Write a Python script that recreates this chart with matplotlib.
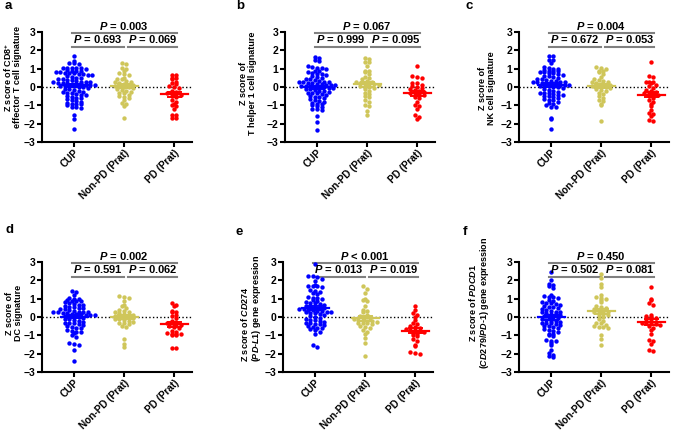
import numpy as np
import matplotlib
matplotlib.use("Agg")
import matplotlib.pyplot as plt

plt.rcParams['font.family'] = ['Liberation Sans', 'DejaVu Sans']
plt.rcParams['font.weight'] = 'bold'
plt.rcParams['mathtext.fontset'] = 'custom'
plt.rcParams['mathtext.rm'] = 'Liberation Sans:bold'
plt.rcParams['mathtext.bf'] = 'Liberation Sans:bold'
plt.rcParams['mathtext.it'] = 'Liberation Sans:italic:bold'

groups = ['CUP', 'Non-PD (Prat)', 'PD (Prat)']
colors = ['#0000FF', '#CFC65A', '#FF0000']

# panel a: CD8+ effector T cell signature
a_cup = [1.7, 1.42, 1.3, 1.3, 1.25, 1.05, 1.05, 1.05, 1.05, 1.05, 1.0, 0.95, 0.9, 0.9, 0.85,
         0.8, 0.8, 0.78, 0.75, 0.75, 0.72, 0.7, 0.68, 0.65, 0.6, 0.55, 0.5, 0.5, 0.45, 0.42,
         0.4, 0.38, 0.35, 0.3, 0.3, 0.28, 0.25, 0.22, 0.2, 0.2, 0.18, 0.15, 0.15, 0.12, 0.1,
         0.1, 0.08, 0.05, 0.05, 0.03, 0.0, -0.02, -0.05, -0.1, -0.12, -0.15, -0.2, -0.25,
         -0.28, -0.3, -0.35, -0.4, -0.42, -0.45, -0.5, -0.55, -0.6, -0.62, -0.65, -0.7, -0.75,
         -0.8, -0.85, -0.9, -0.9, -0.95, -1.0, -1.1, -1.1, -1.15, -1.5, -1.75, -2.3]
a_npd = [1.3, 1.25, 1.05, 1.0, 0.9, 0.75, 0.7, 0.65, 0.5, 0.45, 0.45, 0.35, 0.3, 0.25, 0.2,
         0.15, 0.1, 0.1, 0.05, 0.05, 0.0, 0.0, -0.05, -0.1, -0.15, -0.2, -0.25, -0.3, -0.35,
         -0.45, -0.5, -0.55, -0.6, -0.7, -0.85, -0.9, -1.05, -1.7]
a_pd = [0.67, 0.65, 0.5, 0.5, 0.45, 0.3, 0.2, 0.15, 0.05, 0.0, -0.05, -0.2, -0.25, -0.3,
        -0.35, -0.4, -0.45, -0.5, -0.55, -0.7, -0.8, -0.9, -1.0, -1.05, -1.2, -1.5, -1.5,
        -1.7, -1.7]

# panel b: T helper 1 cell signature
b_cup = [1.65, 1.6, 1.45, 1.4, 1.15, 1.1, 1.05, 1.05, 1.0, 0.9, 0.85, 0.8, 0.75, 0.7, 0.7,
         0.65, 0.6, 0.55, 0.5, 0.45, 0.45, 0.4, 0.35, 0.3, 0.3, 0.25, 0.25, 0.2, 0.2, 0.15,
         0.15, 0.1, 0.1, 0.1, 0.05, 0.05, 0.05, 0.0, 0.0, 0.0, -0.05, -0.05, -0.1, -0.1,
         -0.15, -0.2, -0.2, -0.25, -0.3, -0.3, -0.35, -0.4, -0.45, -0.5, -0.55, -0.55, -0.6,
         -0.65, -0.7, -0.75, -0.8, -0.85, -0.9, -0.95, -1.0, -1.05, -1.1, -1.2, -1.2, -1.25,
         -1.6, -1.9, -2.35]
b_npd = [1.6, 1.55, 1.35, 1.35, 1.15, 0.9, 0.85, 0.8, 0.7, 0.55, 0.5, 0.45, 0.35, 0.3, 0.25,
         0.2, 0.2, 0.15, 0.15, 0.1, 0.05, 0.05, 0.0, -0.05, -0.1, -0.2, -0.3, -0.4, -0.5,
         -0.55, -0.7, -0.8, -1.0, -1.05, -1.3, -1.55]
b_pd = [1.15, 0.6, 0.55, 0.5, 0.2, 0.2, 0.1, 0.05, 0.0, -0.05, -0.1, -0.15, -0.2, -0.25,
        -0.3, -0.35, -0.4, -0.45, -0.55, -0.6, -0.8, -1.0, -1.05, -1.2, -1.55, -1.65, -1.75]

# panel c: NK cell signature
c_cup = [1.7, 1.7, 1.5, 1.45, 1.3, 1.1, 1.05, 1.0, 1.0, 0.95, 0.9, 0.9, 0.85, 0.8, 0.8,
         0.75, 0.75, 0.7, 0.65, 0.6, 0.6, 0.55, 0.5, 0.45, 0.45, 0.4, 0.35, 0.35, 0.3, 0.3,
         0.25, 0.25, 0.2, 0.2, 0.15, 0.15, 0.1, 0.1, 0.1, 0.05, 0.05, 0.05, 0.0, 0.0, -0.05,
         -0.1, -0.15, -0.2, -0.25, -0.3, -0.3, -0.35, -0.4, -0.45, -0.45, -0.5, -0.5, -0.55,
         -0.6, -0.65, -0.7, -0.7, -0.8, -0.85, -0.9, -1.0, -1.1, -1.1, -1.7, -1.75, -2.3]
c_npd = [1.1, 1.05, 1.0, 0.9, 0.85, 0.8, 0.7, 0.55, 0.45, 0.4, 0.35, 0.3, 0.25, 0.2, 0.15,
         0.1, 0.1, 0.05, 0.05, 0.0, 0.0, -0.05, -0.1, -0.15, -0.2, -0.3, -0.4, -0.5, -0.6,
         -0.7, -0.75, -0.95, -1.0, -1.85]
c_pd = [1.35, 0.6, 0.55, 0.3, 0.3, 0.25, 0.2, 0.1, 0.05, -0.05, -0.15, -0.2, -0.25, -0.3,
        -0.35, -0.4, -0.45, -0.5, -0.6, -0.7, -0.8, -0.95, -1.05, -1.25, -1.4, -1.45, -1.6,
        -1.8, -1.85]

# panel d: DC signature
d_cup = [1.4, 1.35, 1.2, 1.05, 1.0, 1.0, 0.95, 0.9, 0.9, 0.85, 0.8, 0.75, 0.7, 0.65, 0.65,
         0.6, 0.55, 0.55, 0.5, 0.5, 0.45, 0.45, 0.4, 0.35, 0.3, 0.3, 0.3, 0.25, 0.25, 0.2,
         0.2, 0.15, 0.15, 0.15, 0.1, 0.1, 0.1, 0.05, 0.05, 0.0, 0.0, -0.05, -0.1, -0.1,
         -0.15, -0.2, -0.25, -0.3, -0.3, -0.35, -0.4, -0.45, -0.5, -0.55, -0.6, -0.6, -0.7,
         -0.75, -0.8, -0.8, -0.85, -1.0, -1.1, -1.4, -1.45, -1.5, -1.8, -2.4]
d_npd = [1.15, 1.1, 1.05, 0.85, 0.65, 0.6, 0.5, 0.4, 0.35, 0.3, 0.25, 0.2, 0.15, 0.1, 0.1,
         0.05, 0.05, 0.0, 0.0, -0.05, -0.1, -0.1, -0.15, -0.2, -0.25, -0.3, -0.35, -0.4,
         -0.5, -0.55, -1.2, -1.45, -1.65]
d_pd = [0.75, 0.65, 0.6, 0.35, 0.3, 0.25, 0.1, 0.05, -0.05, -0.2, -0.25, -0.3, -0.35, -0.4,
        -0.45, -0.5, -0.55, -0.6, -0.75, -0.8, -0.85, -0.9, -0.95, -0.95, -1.0, -1.0, -1.7,
        -1.7]

# panel e: CD274 (PD-L1)
e_cup = [2.9, 2.25, 2.25, 2.2, 2.1, 1.95, 1.75, 1.7, 1.7, 1.7, 1.65, 1.5, 1.4, 1.35, 1.3,
         1.25, 1.1, 1.05, 1.05, 1.0, 0.95, 0.85, 0.8, 0.75, 0.75, 0.7, 0.65, 0.6, 0.55, 0.5,
         0.5, 0.5, 0.45, 0.45, 0.4, 0.4, 0.35, 0.35, 0.3, 0.3, 0.25, 0.2, 0.2, 0.15, 0.1,
         0.05, 0.0, -0.05, -0.1, -0.15, -0.15, -0.2, -0.25, -0.3, -0.35, -0.4, -0.4, -0.45,
         -0.5, -0.55, -0.6, -0.6, -0.65, -0.7, -0.8, -0.95, -1.55, -1.65]
e_npd = [1.7, 1.55, 1.3, 1.0, 0.95, 0.85, 0.6, 0.4, 0.35, 0.25, 0.1, 0.05, 0.0, -0.05,
         -0.1, -0.15, -0.15, -0.2, -0.2, -0.25, -0.3, -0.3, -0.35, -0.4, -0.5, -0.55, -0.6,
         -0.7, -0.8, -0.95, -1.15, -1.4, -2.15]
e_pd = [0.6, 0.4, 0.2, 0.1, 0.0, -0.15, -0.3, -0.4, -0.5, -0.55, -0.6, -0.65, -0.7, -0.7,
        -0.75, -0.8, -0.85, -0.9, -1.0, -1.05, -1.2, -1.3, -1.5, -1.6, -1.9, -1.95, -2.0]

# panel f: PDCD1 (CD279/PD-1)
f_cup = [2.45, 2.0, 1.8, 1.75, 1.7, 1.6, 1.2, 1.15, 1.1, 1.1, 1.05, 0.95, 0.9, 0.8, 0.75,
         0.75, 0.7, 0.65, 0.6, 0.55, 0.55, 0.5, 0.45, 0.4, 0.35, 0.3, 0.3, 0.25, 0.2, 0.15,
         0.15, 0.1, 0.05, 0.0, 0.0, -0.05, -0.1, -0.15, -0.2, -0.2, -0.25, -0.3, -0.35,
         -0.35, -0.4, -0.45, -0.5, -0.5, -0.55, -0.6, -0.65, -0.7, -0.75, -0.8, -0.9, -0.95,
         -1.0, -1.05, -1.25, -1.3, -1.3, -1.4, -1.55, -1.8, -1.95, -2.05, -2.15, -2.2]
f_npd = [2.35, 2.15, 1.8, 1.65, 1.2, 1.1, 1.05, 1.0, 0.95, 0.8, 0.6, 0.55, 0.5, 0.45, 0.35,
         0.3, 0.3, 0.25, 0.2, 0.15, 0.1, 0.05, 0.0, -0.1, -0.2, -0.3, -0.35, -0.45, -0.5,
         -0.55, -0.55, -0.6, -1.0, -1.2, -1.5]
f_pd = [1.65, 1.0, 0.95, 0.75, 0.65, 0.1, 0.05, 0.0, -0.05, -0.1, -0.2, -0.25, -0.3, -0.35,
        -0.35, -0.4, -0.45, -0.5, -0.6, -0.7, -0.9, -1.25, -1.3, -1.45, -1.8, -1.85]

letters = ['a', 'b', 'c', 'd', 'e', 'f']
ylabels = [
    'Z score of CD8$^{+}$\neffector T cell signature',
    'Z score of\nT helper 1 cell signature',
    'Z score of\nNK cell signature',
    'Z score of\nDC signature',
    'Z score of $\\mathit{CD274}$\n($\\mathit{PD}$-$\\mathit{L1}$) gene expression',
    'Z score of $\\mathit{PDCD1}$\n($\\mathit{CD279/PD}$-$\\mathit{1}$) gene expression',
]
# p values: [CUP vs PD, CUP vs Non-PD, Non-PD vs PD]
pvals = [
    ['= 0.003', '= 0.693', '= 0.069'],
    ['= 0.067', '= 0.999', '= 0.095'],
    ['= 0.004', '= 0.672', '= 0.053'],
    ['= 0.002', '= 0.591', '= 0.062'],
    ['< 0.001', '= 0.013', '= 0.019'],
    ['= 0.450', '= 0.502', '= 0.081'],
]
panels = [
    [a_cup, a_npd, a_pd],
    [b_cup, b_npd, b_pd],
    [c_cup, c_npd, c_pd],
    [d_cup, d_npd, d_pd],
    [e_cup, e_npd, e_pd],
    [f_cup, f_npd, f_pd],
]

W, H = 685, 432
lefts = [42, 285, 519, 42, 283, 519]
tops = [32, 32, 32, 262, 262, 262]
ax_w, ax_h = 150, 110
xpx, ypx = ax_w / 3.0, ax_h / 6.0   # pixels per data unit

# ylabel placement (pixels): x centre, y anchor, vertical anchor, line alignment
ylab_pos = [(12, 77, 'center', 'center'), (248, 83, 'center', 'center'),
            (487, 88, 'center', 'center'), (14, 313, 'center', 'center'),
            (251, 362, 'bottom', 'left'), (479, 237, 'top', 'center')]
letter_pos = [(5, 6), (236, 6), (466, 6), (5, 230), (235, 232), (463, 232)]


def swarm(vals, h=0.18, dx=4.6):
    # graphpad-like: points grouped into rows, spread sideways within each row
    rows = np.round(np.asarray(vals) / h)
    offs = np.zeros(len(vals))
    for r in np.unique(rows):
        idx = np.where(rows == r)[0]
        n = len(idx)
        offs[idx] = (np.arange(n) - (n - 1) / 2.0) * dx / xpx
    return offs


fig = plt.figure(figsize=(W / 100, H / 100), dpi=100)

for k in range(6):
    ax = fig.add_axes([lefts[k] / W, 1 - (tops[k] + ax_h) / H, ax_w / W, ax_h / H])
    ax.set_xlim(-0.64, 2.36)
    ax.set_ylim(-3, 3)
    ax.axhline(0, color='black', lw=1.0, ls=':', zorder=1)
    for g in range(3):
        vals = np.array(panels[k][g])
        x = g + swarm(vals)
        ax.scatter(x, vals, s=10, color=colors[g], linewidths=0, zorder=3, clip_on=False)
        m = vals.mean()
        sem = vals.std(ddof=1) / np.sqrt(len(vals))
        ax.plot([g - 0.27, g + 0.27], [m, m], color=colors[g], lw=1.6, zorder=4)
        ax.plot([g, g], [m - sem, m + sem], color=colors[g], lw=1.4, zorder=4)
        for yy in (m - sem, m + sem):
            ax.plot([g - 0.13, g + 0.13], [yy, yy], color=colors[g], lw=1.4, zorder=4)

    for s in ['top', 'right']:
        ax.spines[s].set_visible(False)
    for s in ['left', 'bottom']:
        ax.spines[s].set_linewidth(1.5)
    ax.set_yticks(range(-3, 4))
    ax.set_xticks(range(3))
    ax.set_xticklabels(groups, rotation=45, ha='right', rotation_mode='anchor', fontsize=7.2)
    ax.tick_params(width=1.5, length=3.5, pad=1.2)
    ax.tick_params(axis='x', pad=0.5)
    ax.tick_params(axis='y', labelsize=7.5)

    # significance brackets
    gray = '#808080'
    ax.plot([-0.05, 2.05], [2.95, 2.95], color=gray, lw=1.5, clip_on=False)
    ax.plot([-0.05, 1.0], [2.2, 2.2], color=gray, lw=1.5, clip_on=False)
    ax.plot([1.08, 2.05], [2.2, 2.2], color=gray, lw=1.5, clip_on=False)
    p = pvals[k]
    ax.text(1.0, 3.02, '$\\mathit{P}$ ' + p[0], ha='center', va='bottom', fontsize=8)
    ax.text(0.47, 2.27, '$\\mathit{P}$ ' + p[1], ha='center', va='bottom', fontsize=8)
    ax.text(1.57, 2.27, '$\\mathit{P}$ ' + p[2], ha='center', va='bottom', fontsize=8)

    lx, ly, lva, lma = ylab_pos[k]
    fig.text(lx / W, 1 - ly / H, ylabels[k], rotation=90, ha='center', va=lva,
             multialignment=lma, fontsize=6.5, fontweight='bold', linespacing=0.95)

    fig.text(letter_pos[k][0] / W, 1 - letter_pos[k][1] / H, letters[k], fontsize=9.5,
             fontweight='bold', ha='left', va='center')

fig.savefig('out.png', dpi=100)
